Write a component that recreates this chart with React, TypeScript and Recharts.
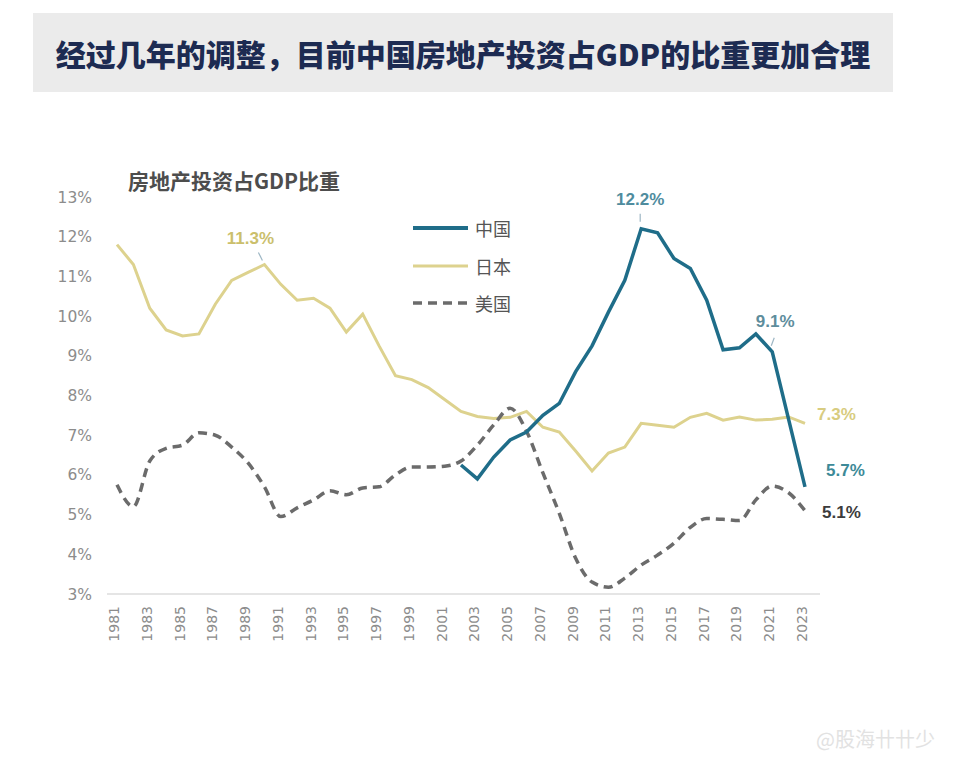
import { LineChart, Line, XAxis, YAxis } from 'recharts';

const years = [
  1981, 1982, 1983, 1984, 1985, 1986, 1987, 1988, 1989, 1990,
  1991, 1992, 1993, 1994, 1995, 1996, 1997, 1998, 1999, 2000,
  2001, 2002, 2003, 2004, 2005, 2006, 2007, 2008, 2009, 2010,
  2011, 2012, 2013, 2014, 2015, 2016, 2017, 2018, 2019, 2020,
  2021, 2022, 2023,
];

// 日本 1981-2023
const japan = [
  11.8, 11.3, 10.2, 9.65, 9.5, 9.55, 10.3, 10.9, 11.1, 11.3,
  10.8, 10.4, 10.45, 10.2, 9.6, 10.05, 9.25, 8.5, 8.4, 8.2,
  7.9, 7.6, 7.47, 7.42, 7.45, 7.6, 7.2, 7.08, 6.6, 6.1,
  6.55, 6.7, 7.3, 7.25, 7.2, 7.45, 7.55, 7.38, 7.46, 7.38,
  7.4, 7.46, 7.3,
];

// 美国 1981-2023
const us = [
  5.75, 5.2, 6.35, 6.67, 6.75, 7.06, 7.0, 6.7, 6.3, 5.7,
  4.95, 5.17, 5.37, 5.6, 5.5, 5.67, 5.7, 6.0, 6.2, 6.2,
  6.22, 6.35, 6.75, 7.26, 7.68, 7.1, 6.05, 5.03, 3.9, 3.3,
  3.17, 3.4, 3.73, 3.98, 4.28, 4.68, 4.9, 4.88, 4.85, 5.37,
  5.72, 5.55, 5.1,
];

// 中国 2002-2023
const chinaStart = 2002;
const china = [
  6.25, 5.9, 6.45, 6.88, 7.08, 7.5, 7.8, 8.6, 9.25, 10.1,
  10.9, 12.2, 12.1, 11.45, 11.2, 10.4, 9.15, 9.2, 9.55, 9.1,
  7.4, 5.7,
];

const yTicks = [3, 4, 5, 6, 7, 8, 9, 10, 11, 12, 13];

const title = '经过几年的调整，目前中国房地产投资占GDP的比重更加合理';
const subtitle = '房地产投资占GDP比重';

const series = [
  { key: 'china', name: '中国', color: '#1f6d89', width: 4, dash: undefined as string | undefined },
  { key: 'japan', name: '日本', color: '#ddd28e', width: 3, dash: undefined as string | undefined },
  { key: 'us', name: '美国', color: '#6b6b6b', width: 3.5, dash: '9 6' },
];

// callouts: which years get a value label, and how it sits next to the point
const callouts: Record<string, { year: number; dx: number; dy: number; anchor: string; color: string; leader?: number[] }[]> = {
  japan: [
    { year: 1990, dx: -14, dy: -20, anchor: 'middle', color: '#cbbf6c', leader: [-6, -12, -2, -4] },
    { year: 2023, dx: 12, dy: -3, anchor: 'start', color: '#d8cc80' },
  ],
  china: [
    { year: 2013, dx: -1, dy: -24, anchor: 'middle', color: '#4f8c9e', leader: [-1, -15, -1, -7] },
    { year: 2021, dx: 3, dy: -25, anchor: 'middle', color: '#5e8d9c', leader: [2, -14, -1, -6] },
    { year: 2023, dx: 21, dy: -11, anchor: 'start', color: '#3d8a98' },
  ],
  us: [{ year: 2023, dx: 17, dy: 7, anchor: 'start', color: '#3c3c3c' }],
};

const NUM_FONT = '"Liberation Sans", Arial, sans-serif';
const TICK_FONT = '"DejaVu Sans", sans-serif';
const CJK_FONT = '"Noto Sans CJK SC", sans-serif';

function makeLabel(key: string) {
  return (props: any) => {
    const { x, y, index, value } = props;
    const c = callouts[key].find((k) => k.year === years[index]);
    if (!c || value == null) return <g key={`l-${key}-${index}`} />;
    return (
      <g key={`l-${key}-${index}`}>
        {c.leader && (
          <line
            x1={x + c.leader[0]}
            y1={y + c.leader[1]}
            x2={x + c.leader[2]}
            y2={y + c.leader[3]}
            stroke="#9db6c4"
            strokeWidth={1.2}
          />
        )}
        <text
          x={x + c.dx}
          y={y + c.dy}
          textAnchor={c.anchor as any}
          fill={c.color}
          fontSize={17}
          fontWeight="bold"
          fontFamily={NUM_FONT}
        >
          {`${Number(value).toFixed(1)}%`}
        </text>
      </g>
    );
  };
}

function YearTick(props: any) {
  const { x, y, payload } = props;
  return (
    <text
      x={x - 3}
      y={y}
      transform={`rotate(-90 ${x - 3} ${y})`}
      textAnchor="end"
      dominantBaseline="central"
      fill="#8c8c8c"
      fontSize={14}
      fontFamily={TICK_FONT}
    >
      {payload.value}
    </text>
  );
}

export default function App() {
  const data = years.map((year, i) => ({
    year,
    japan: japan[i],
    us: us[i],
    china: year >= chinaStart ? china[year - chinaStart] : null,
  }));

  return (
    <div style={{ position: 'relative', width: 948, height: 744, background: '#fff' }}>
      <div style={{ position: 'absolute', left: -8, top: -8, width: 905, height: 3, background: '#d4d4d4' }} />
      <div
        style={{
          position: 'absolute',
          left: 25,
          top: 5,
          width: 860,
          height: 79,
          background: '#ebebeb',
        }}
      />
      <div
        style={{
          position: 'absolute',
          left: 25,
          top: 29,
          width: 860,
          textAlign: 'center',
          fontFamily: CJK_FONT,
          fontWeight: 900,
          fontSize: 30,
          lineHeight: '32px',
          color: '#1d2b52',
          whiteSpace: 'nowrap',
        }}
      >
        {title}
      </div>

      <div style={{ position: 'absolute', left: 0, top: 0 }}>
        <LineChart
          width={948}
          height={744}
          data={data}
          margin={{ top: 189, right: 136, bottom: 98, left: 0 }}
        >
          <XAxis
            dataKey="year"
            interval={1}
            padding={{ left: 10, right: 15 }}
            height={60}
            tickLine={false}
            tickMargin={6}
            axisLine={{ stroke: '#dcdcdc', strokeWidth: 1.5 }}
            tick={(p: any) => <YearTick {...p} />}
          />
          <YAxis
            type="number"
            domain={[3, 13]}
            ticks={yTicks}
            width={99}
            axisLine={false}
            tickLine={false}
            tickMargin={9}
            tickFormatter={(v: number) => `${v}%`}
            tick={{ fill: '#8c8c8c', fontSize: 15.5, fontFamily: TICK_FONT }}
          />
          <Line
            dataKey="japan"
            type="linear"
            stroke="#ddd28e"
            strokeWidth={3}
            dot={false}
            activeDot={false}
            isAnimationActive={false}
            label={makeLabel('japan')}
          />
          <Line
            dataKey="us"
            type="monotone"
            stroke="#6b6b6b"
            strokeWidth={3.5}
            strokeDasharray="9 6"
            dot={false}
            activeDot={false}
            isAnimationActive={false}
            label={makeLabel('us')}
          />
          <Line
            dataKey="china"
            type="linear"
            stroke="#1f6d89"
            strokeWidth={3.5}
            dot={false}
            activeDot={false}
            isAnimationActive={false}
            label={makeLabel('china')}
          />
        </LineChart>
      </div>

      <div
        style={{
          position: 'absolute',
          left: 120,
          top: 161,
          fontFamily: CJK_FONT,
          fontWeight: 700,
          fontSize: 21,
          lineHeight: '22px',
          color: '#4d4d4d',
          whiteSpace: 'nowrap',
        }}
      >
        {subtitle}
      </div>

      {series.map((s, i) => (
        <div
          key={s.key}
          style={{
            position: 'absolute',
            left: 405,
            top: 208 + i * 37.5,
            height: 24,
            display: 'flex',
            alignItems: 'center',
          }}
        >
          <svg width={56} height={24}>
            <line
              x1={0}
              y1={12}
              x2={55}
              y2={12}
              stroke={s.color}
              strokeWidth={s.width}
              strokeDasharray={s.dash}
            />
          </svg>
          <span
            style={{
              marginLeft: 6,
              fontFamily: CJK_FONT,
              fontSize: 18,
              color: '#555',
              lineHeight: '24px',
            }}
          >
            {s.name}
          </span>
        </div>
      ))}

      <div
        style={{
          position: 'absolute',
          left: 808,
          top: 716,
          fontFamily: CJK_FONT,
          fontSize: 20,
          color: '#e2e2e2',
          whiteSpace: 'nowrap',
        }}
      >
        @股海卄卄少
      </div>
    </div>
  );
}
